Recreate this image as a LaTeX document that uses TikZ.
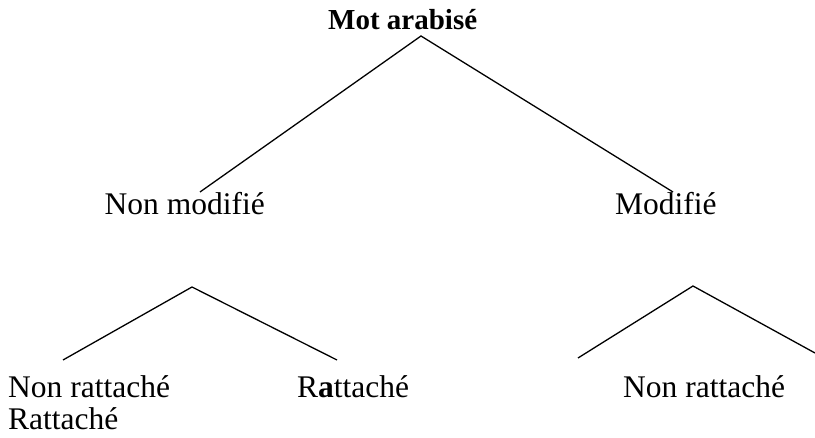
\documentclass[tikz,border=0pt]{standalone}
\usepackage{fontspec}
\setmainfont{Liberation Serif}
\begin{document}
\begin{tikzpicture}[x=1pt,y=-1pt,
  lbl/.style={inner sep=0pt,anchor=base west,font=\fontsize{31.5}{38}\selectfont},
  edge/.style={line width=1.3pt,black}]
\useasboundingbox (0,0) rectangle (815,438);
\node[lbl,font=\fontsize{29}{35}\selectfont\bfseries] (root) at (328,30) {Mot arabisé};
\node[lbl,anchor=base east] (nm) at (265,215) {Non modifié};
\node[lbl] (m) at (615,215) {Modifié};
\node[lbl] (nr1) at (8,398) {Non rattaché};
\node[lbl] (r2) at (8,430) {Rattaché};
\node[lbl] (r1) at (297,398) {R\textbf{a}ttaché};
\node[lbl] (nr2) at (623,398) {Non rattaché};
\coordinate (a0) at (421,36);
\coordinate (a0l) at (200,192);
\coordinate (a0r) at (673,192);
\coordinate (a1) at (192,287);
\coordinate (a1l) at (63,360);
\coordinate (a1r) at (337,360);
\coordinate (a2) at (693,286);
\coordinate (a2l) at (578,358);
\coordinate (a2r) at (815,353);
\draw[edge] (a0l) -- (a0) -- (a0r);
\draw[edge] (a1l) -- (a1) -- (a1r);
\draw[edge] (a2l) -- (a2) -- (a2r);
\end{tikzpicture}
\end{document}
